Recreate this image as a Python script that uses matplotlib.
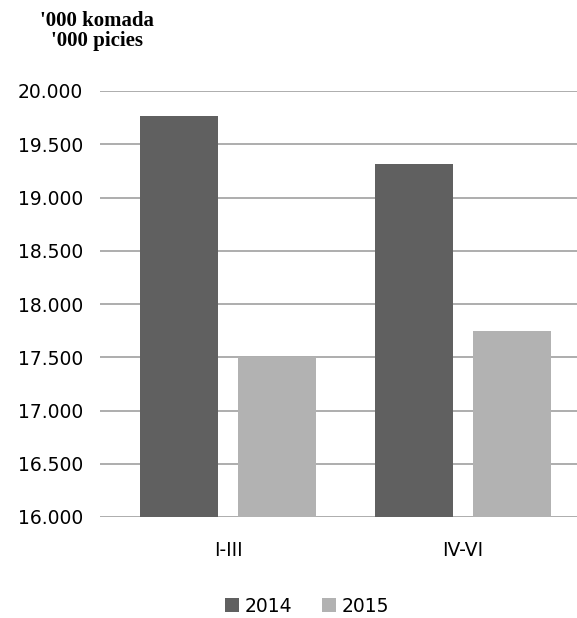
import matplotlib
matplotlib.use("Agg")
import matplotlib.pyplot as plt
import numpy as np

categories = ["I-III", "IV-VI"]
series_names = ["2014", "2015"]
values_2014 = [19765, 19312]
values_2015 = [17505, 17745]
yticks = [16000, 16500, 17000, 17500, 18000, 18500, 19000, 19500, 20000]

colors = ["#606060", "#b2b2b2"]

plt.rcParams["font.family"] = ["DejaVu Sans"]

fig = plt.figure(figsize=(5.77, 6.18), dpi=100)
ax = fig.add_axes([100 / 577, 101 / 618, 477 / 577, 426 / 618])

x = np.arange(len(categories))
width = 0.332
offset = 0.2085
ax.bar(x - offset, values_2014, width, color=colors[0], label=series_names[0], zorder=3)
ax.bar(x + offset, values_2015, width, color=colors[1], label=series_names[1], zorder=3)

ax.set_ylim(16000, 20000)
ax.set_xlim(-0.545, 1.485)
ax.set_yticks(yticks)
ax.set_yticklabels([f"{v:,}".replace(",", ".") for v in yticks], fontsize=13.5)
ax.set_xticks(x)
ax.set_xticklabels(categories, fontsize=13.5)
ax.tick_params(axis="both", length=0)
ax.tick_params(axis="y", pad=12)
ax.tick_params(axis="x", pad=17)
ax.yaxis.grid(True, color="#a0a0a0", linewidth=1.2, zorder=0)
for s in ax.spines.values():
    s.set_visible(False)

fig.text(97 / 577, 1 - 31 / 618, "'000 komada\n'000 picies", ha="center", va="center",
         family="Liberation Serif", fontweight="bold", fontsize=15, linespacing=1.05)

fig.legend(loc="center", bbox_to_anchor=(307 / 577, 1 - 606 / 618), ncol=2, frameon=False,
           fontsize=13.5, handlelength=0.75, handleheight=0.7, handletextpad=0.3,
           columnspacing=1.6, borderpad=0)

fig.savefig("out.png", dpi=100)
